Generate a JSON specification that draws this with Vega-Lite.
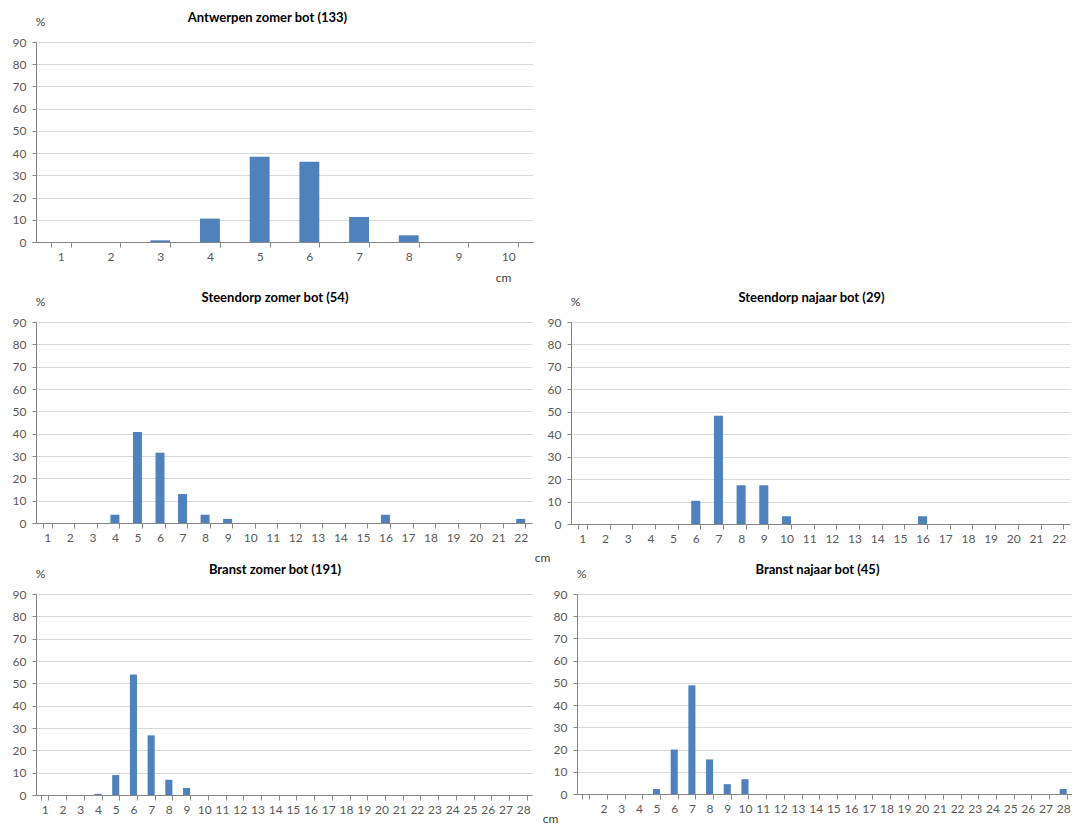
{
  "$schema": "https://vega.github.io/schema/vega-lite/v6.json",
  "background": "white",
  "padding": {"left": 12, "top": 12, "right": 0, "bottom": 0},
  "bounds": "flush",
  "spacing": 80,
  "datasets": {
    "antwerpen": [
      {"cm": 3, "pct": 0.75}, {"cm": 4, "pct": 10.53}, {"cm": 5, "pct": 38.35},
      {"cm": 6, "pct": 36.09}, {"cm": 7, "pct": 11.28}, {"cm": 8, "pct": 3.01}
    ],
    "steendorp_zomer": [
      {"cm": 4, "pct": 3.70}, {"cm": 5, "pct": 40.74}, {"cm": 6, "pct": 31.48},
      {"cm": 7, "pct": 12.96}, {"cm": 8, "pct": 3.70}, {"cm": 9, "pct": 1.85},
      {"cm": 16, "pct": 3.70}, {"cm": 22, "pct": 1.85}
    ],
    "steendorp_najaar": [
      {"cm": 6, "pct": 10.34}, {"cm": 7, "pct": 48.28}, {"cm": 8, "pct": 17.24},
      {"cm": 9, "pct": 17.24}, {"cm": 10, "pct": 3.45}, {"cm": 16, "pct": 3.45}
    ],
    "branst_zomer": [
      {"cm": 4, "pct": 0.52}, {"cm": 5, "pct": 8.90}, {"cm": 6, "pct": 53.93},
      {"cm": 7, "pct": 26.70}, {"cm": 8, "pct": 6.81}, {"cm": 9, "pct": 3.14}
    ],
    "branst_najaar": [
      {"cm": 5, "pct": 2.22}, {"cm": 6, "pct": 20.0}, {"cm": 7, "pct": 48.89},
      {"cm": 8, "pct": 15.56}, {"cm": 9, "pct": 4.44}, {"cm": 10, "pct": 6.67},
      {"cm": 28, "pct": 2.22}
    ]
  },
  "vconcat": [
    {
      "width": 497, "height": 200,
      "data": {"name": "antwerpen"},
      "title": {"text": "Antwerpen zomer bot (133)", "dx": -17},
      "mark": {"type": "bar", "color": "#4F81BD"},
      "encoding": {
        "x": {"field": "cm", "type": "ordinal",
              "scale": {"domain": [1,2,3,4,5,6,7,8,9,10], "paddingInner": 0.6, "paddingOuter": 0.3},
              "axis": {"title": "cm", "titleX": 467, "titleY": 35, "titleAlign": "center", "titleBaseline": "middle"}},
        "y": {"field": "pct", "type": "quantitative",
              "scale": {"domain": [0, 90], "nice": false},
              "axis": {"title": "%", "values": [0,10,20,30,40,50,60,70,80,90]}}
      }
    },
    {
      "bounds": "flush",
      "spacing": 39,
      "hconcat": [
        {
          "width": 496, "height": 201,
          "data": {"name": "steendorp_zomer"},
          "title": {"text": "Steendorp zomer bot (54)", "dx": -9},
          "mark": {"type": "bar", "color": "#4F81BD"},
          "encoding": {
            "x": {"field": "cm", "type": "ordinal",
                  "scale": {"domain": [1,2,3,4,5,6,7,8,9,10,11,12,13,14,15,16,17,18,19,20,21,22], "paddingInner": 0.6, "paddingOuter": 0.3},
                  "axis": {"title": null}},
            "y": {"field": "pct", "type": "quantitative",
                  "scale": {"domain": [0, 90], "nice": false},
                  "axis": {"title": "%", "values": [0,10,20,30,40,50,60,70,80,90]}}
          }
        },
        {
          "width": 499, "height": 202,
          "data": {"name": "steendorp_najaar"},
          "title": {"text": "Steendorp najaar bot (29)", "dx": -9},
          "mark": {"type": "bar", "color": "#4F81BD"},
          "encoding": {
            "x": {"field": "cm", "type": "ordinal",
                  "scale": {"domain": [1,2,3,4,5,6,7,8,9,10,11,12,13,14,15,16,17,18,19,20,21,22], "paddingInner": 0.6, "paddingOuter": 0.3},
                  "axis": {"title": "cm", "titleX": -29, "titleY": 33, "titleAlign": "center", "titleBaseline": "middle"}},
            "y": {"field": "pct", "type": "quantitative",
                  "scale": {"domain": [0, 90], "nice": false},
                  "axis": {"title": "%", "values": [0,10,20,30,40,50,60,70,80,90]}}
          }
        }
      ]
    },
    {
      "width": 1, "height": 112,
      "data": {"values": []},
      "mark": {"type": "point", "opacity": 0},
      "encoding": {}
    },
    {
      "bounds": "flush",
      "spacing": 45,
      "hconcat": [
        {
          "width": 496, "height": 201,
          "data": {"name": "branst_zomer"},
          "title": {"text": "Branst zomer bot (191)", "dx": -9},
          "mark": {"type": "bar", "color": "#4F81BD"},
          "encoding": {
            "x": {"field": "cm", "type": "ordinal",
                  "scale": {"domain": [1,2,3,4,5,6,7,8,9,10,11,12,13,14,15,16,17,18,19,20,21,22,23,24,25,26,27,28], "paddingInner": 0.6, "paddingOuter": 0.3},
                  "axis": {"title": null}},
            "y": {"field": "pct", "type": "quantitative",
                  "scale": {"domain": [0, 90], "nice": false},
                  "axis": {"title": "%", "values": [0,10,20,30,40,50,60,70,80,90]}}
          }
        },
        {
          "width": 495, "height": 200,
          "data": {"name": "branst_najaar"},
          "title": {"text": "Branst najaar bot (45)", "dx": -7},
          "mark": {"type": "bar", "color": "#4F81BD"},
          "encoding": {
            "x": {"field": "cm", "type": "ordinal",
                  "scale": {"domain": [1,2,3,4,5,6,7,8,9,10,11,12,13,14,15,16,17,18,19,20,21,22,23,24,25,26,27,28], "paddingInner": 0.6, "paddingOuter": 0.3},
                  "axis": {"title": "cm", "titleX": -27, "titleY": 24, "titleAlign": "center", "titleBaseline": "middle",
                           "labelExpr": "datum.value == 1 ? '' : datum.label"}},
            "y": {"field": "pct", "type": "quantitative",
                  "scale": {"domain": [0, 90], "nice": false},
                  "axis": {"title": "%", "values": [0,10,20,30,40,50,60,70,80,90]}}
          }
        }
      ]
    }
  ],
  "config": {
    "font": "Lato",
    "view": {"stroke": null},
    "axis": {
      "labelFont": "Lato", "labelFontSize": 12, "labelColor": "#595959",
      "titleFont": "Lato", "titleFontSize": 12, "titleFontWeight": "normal", "titleColor": "#404040",
      "domainColor": "#868686", "tickColor": "#868686"
    },
    "axisY": {
      "gridColor": "#d9d9d9", "tickSize": 4, "labelPadding": 6,
      "titleAngle": 0, "titleX": 4, "titleY": -21, "titleAlign": "center", "titleBaseline": "middle"
    },
    "axisX": {
      "grid": false, "tickBand": "extent", "tickSize": 5, "labelAngle": 0,
      "labelPadding": 4, "labelOverlap": false
    },
    "title": {
      "font": "Lato", "fontSize": 13, "fontWeight": "bold", "color": "#000000",
      "frame": "group", "anchor": "middle", "offset": 0, "dy": 14
    }
  }
}
